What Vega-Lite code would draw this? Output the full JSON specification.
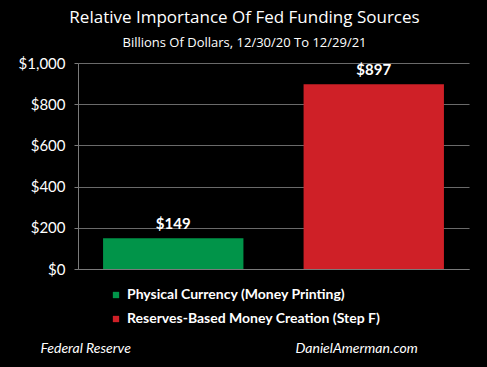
{
  "$schema": "https://vega.github.io/schema/vega-lite/v6.json",
  "width": 391,
  "height": 206,
  "autosize": {"type": "none"},
  "padding": {"left": 78, "top": 63, "right": 18, "bottom": 98},
  "background": "black",
  "config": {"view": {"stroke": null}, "font": "Lato"},
  "title": {
    "text": "Relative Importance Of Fed Funding Sources",
    "subtitle": "Billions Of Dollars, 12/30/20 To 12/29/21",
    "anchor": "middle",
    "frame": "group",
    "dx": -29,
    "offset": 5,
    "color": "white",
    "subtitleColor": "white",
    "font": "Open Sans",
    "subtitleFont": "Open Sans",
    "fontSize": 17,
    "fontWeight": "normal",
    "subtitleFontSize": 13,
    "subtitlePadding": 10
  },
  "data": {
    "values": [
      {"source": "Physical Currency (Money Printing)", "value": 149, "label": "$149"},
      {"source": "Reserves-Based Money Creation (Step F)", "value": 897, "label": "$897"}
    ]
  },
  "resolve": {"axis": {"x": "independent"}},
  "layer": [
    {
      "mark": {"type": "bar"},
      "encoding": {
        "x": {
          "field": "source",
          "type": "nominal",
          "sort": null,
          "scale": {"paddingInner": 0.3, "paddingOuter": 0.125},
          "axis": {
            "orient": "bottom",
            "labels": false,
            "ticks": false,
            "domain": true,
            "domainColor": "#7a7a7a",
            "title": "Federal Reserve",
            "titleColor": "white",
            "titleFont": "Lato",
            "titleFontStyle": "italic",
            "titleFontWeight": "normal",
            "titleFontSize": 14,
            "titleAlign": "left",
            "titleAnchor": "start",
            "titleBaseline": "alphabetic",
            "titleX": -38,
            "titleY": 83
          }
        },
        "y": {
          "field": "value",
          "type": "quantitative",
          "scale": {"domain": [0, 1000]},
          "axis": {
            "title": null,
            "values": [0, 200, 400, 600, 800, 1000],
            "labelExpr": "'$' + format(datum.value, ',')",
            "labelColor": "white",
            "labelFontSize": 15,
            "labelPadding": 9,
            "tickColor": "#7a7a7a",
            "tickSize": 4,
            "domainColor": "#7a7a7a",
            "gridColor": "#6a6a6a",
            "grid": true
          }
        },
        "color": {
          "field": "source",
          "type": "nominal",
          "sort": null,
          "scale": {"range": ["#019449", "#cf2027"]},
          "legend": {
            "orient": "none",
            "legendX": 31,
            "legendY": 225,
            "title": null,
            "symbolType": "square",
            "symbolSize": 40,
            "symbolStrokeWidth": 0,
            "labelColor": "white",
            "labelFont": "Lato",
            "labelFontWeight": "bold",
            "labelFontSize": 14,
            "labelLimit": 400,
            "labelOffset": 4,
            "rowPadding": 10
          }
        }
      }
    },
    {
      "mark": {"type": "text", "dy": -6, "baseline": "bottom", "color": "white", "fontWeight": "bold", "fontSize": 15, "font": "Lato"},
      "encoding": {
        "x": {
          "field": "source",
          "type": "nominal",
          "sort": null,
          "axis": {
            "orient": "top",
            "labels": false,
            "ticks": false,
            "domain": false,
            "title": "DanielAmerman.com",
            "titleColor": "white",
            "titleFont": "Lato",
            "titleFontStyle": "italic",
            "titleFontWeight": "normal",
            "titleFontSize": 14,
            "titleAlign": "left",
            "titleAnchor": "start",
            "titleBaseline": "alphabetic",
            "titleX": 217,
            "titleY": 289
          }
        },
        "y": {"field": "value", "type": "quantitative"},
        "text": {"field": "label"}
      }
    }
  ]
}
